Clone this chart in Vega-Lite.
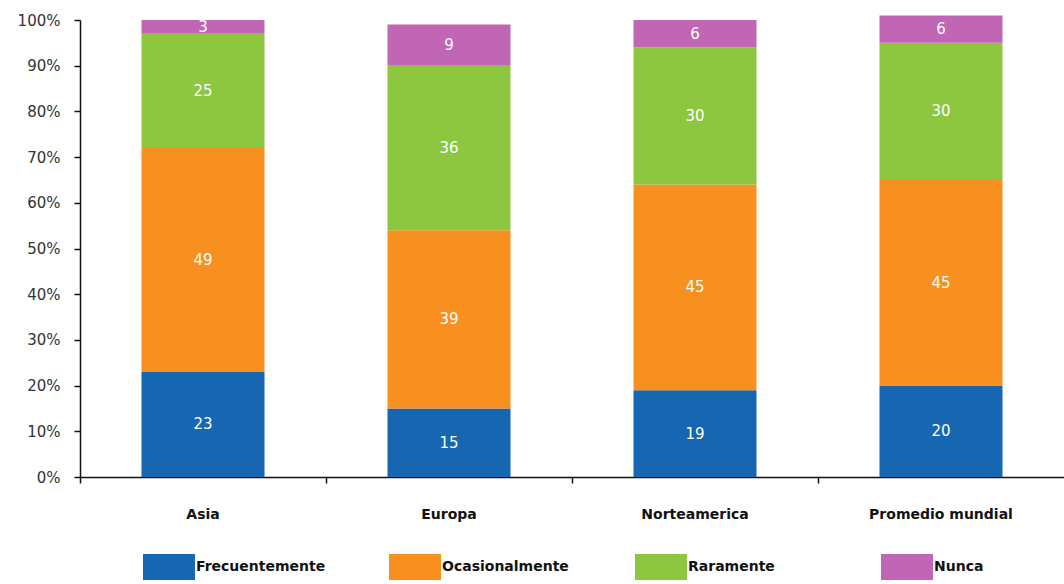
{
  "$schema": "https://vega.github.io/schema/vega-lite/v6.json",
  "autosize": "none",
  "width": 984,
  "height": 457,
  "padding": {"left": 80, "top": 20, "right": 0, "bottom": 107},
  "background": "white",
  "config": {
    "font": "DejaVu Sans",
    "view": {"stroke": null}
  },
  "data": {
    "values": [
      {"region": "Asia", "category": "Frecuentemente", "value": 23},
      {"region": "Asia", "category": "Ocasionalmente", "value": 49},
      {"region": "Asia", "category": "Raramente", "value": 25},
      {"region": "Asia", "category": "Nunca", "value": 3},
      {"region": "Europa", "category": "Frecuentemente", "value": 15},
      {"region": "Europa", "category": "Ocasionalmente", "value": 39},
      {"region": "Europa", "category": "Raramente", "value": 36},
      {"region": "Europa", "category": "Nunca", "value": 9},
      {"region": "Norteamerica", "category": "Frecuentemente", "value": 19},
      {"region": "Norteamerica", "category": "Ocasionalmente", "value": 45},
      {"region": "Norteamerica", "category": "Raramente", "value": 30},
      {"region": "Norteamerica", "category": "Nunca", "value": 6},
      {"region": "Promedio mundial", "category": "Frecuentemente", "value": 20},
      {"region": "Promedio mundial", "category": "Ocasionalmente", "value": 45},
      {"region": "Promedio mundial", "category": "Raramente", "value": 30},
      {"region": "Promedio mundial", "category": "Nunca", "value": 6}
    ]
  },
  "transform": [
    {"calculate": "indexof(['Frecuentemente','Ocasionalmente','Raramente','Nunca'], datum.category)", "as": "ord"},
    {"stack": "value", "groupby": ["region"], "sort": [{"field": "ord", "order": "ascending"}], "as": ["y0", "y1"]},
    {"calculate": "(datum.y0 + datum.y1) / 2", "as": "ymid"}
  ],
  "encoding": {
    "x": {
      "field": "region",
      "type": "nominal",
      "sort": ["Asia", "Europa", "Norteamerica", "Promedio mundial"],
      "scale": {"paddingInner": 0.5, "paddingOuter": 0.25},
      "axis": {
        "title": null,
        "labelAngle": 0,
        "bandPosition": -0.5,
        "domainColor": "#111",
        "domainWidth": 1.5,
        "tickColor": "#111",
        "tickWidth": 1.5,
        "tickSize": 6,
        "labelFont": "DejaVu Sans",
        "labelFontWeight": "bold",
        "labelFontSize": 14,
        "labelColor": "#111",
        "labelPadding": 24
      }
    }
  },
  "layer": [
    {
      "mark": {"type": "bar"},
      "encoding": {
        "y": {
          "field": "y0",
          "type": "quantitative",
          "scale": {"domain": [0, 100], "nice": false},
          "axis": {
            "title": null,
            "values": [0, 10, 20, 30, 40, 50, 60, 70, 80, 90, 100],
            "labelExpr": "datum.value + '%'",
            "grid": false,
            "domainColor": "#111",
            "domainWidth": 1.5,
            "tickColor": "#111",
            "tickWidth": 1.5,
            "tickSize": 6,
            "labelFontSize": 15,
            "labelColor": "#333",
            "labelPadding": 14
          }
        },
        "y2": {"field": "y1"},
        "color": {
          "field": "category",
          "type": "nominal",
          "scale": {
            "domain": ["Frecuentemente", "Ocasionalmente", "Raramente", "Nunca"],
            "range": ["#1766b2", "#f7901e", "#8dc63f", "#c066b5"]
          },
          "legend": {
            "title": null,
            "orient": "none",
            "legendX": 63,
            "legendY": 521,
            "direction": "horizontal",
            "columns": 4,
            "gridAlign": "all",
            "columnPadding": 63,
            "symbolType": "M-1,-0.5H1V0.5H-1Z",
            "symbolSize": 2700,
            "symbolStrokeWidth": 0,
            "symbolOpacity": 1,
            "labelFont": "DejaVu Sans",
            "labelFontWeight": "bold",
            "labelFontSize": 14,
            "labelColor": "#111",
            "labelOffset": 1,
            "labelLimit": 200
          }
        }
      }
    },
    {
      "mark": {"type": "text", "color": "white", "fontSize": 15, "font": "DejaVu Sans"},
      "encoding": {
        "y": {"field": "ymid", "type": "quantitative"},
        "text": {"field": "value", "type": "quantitative"}
      }
    }
  ]
}
